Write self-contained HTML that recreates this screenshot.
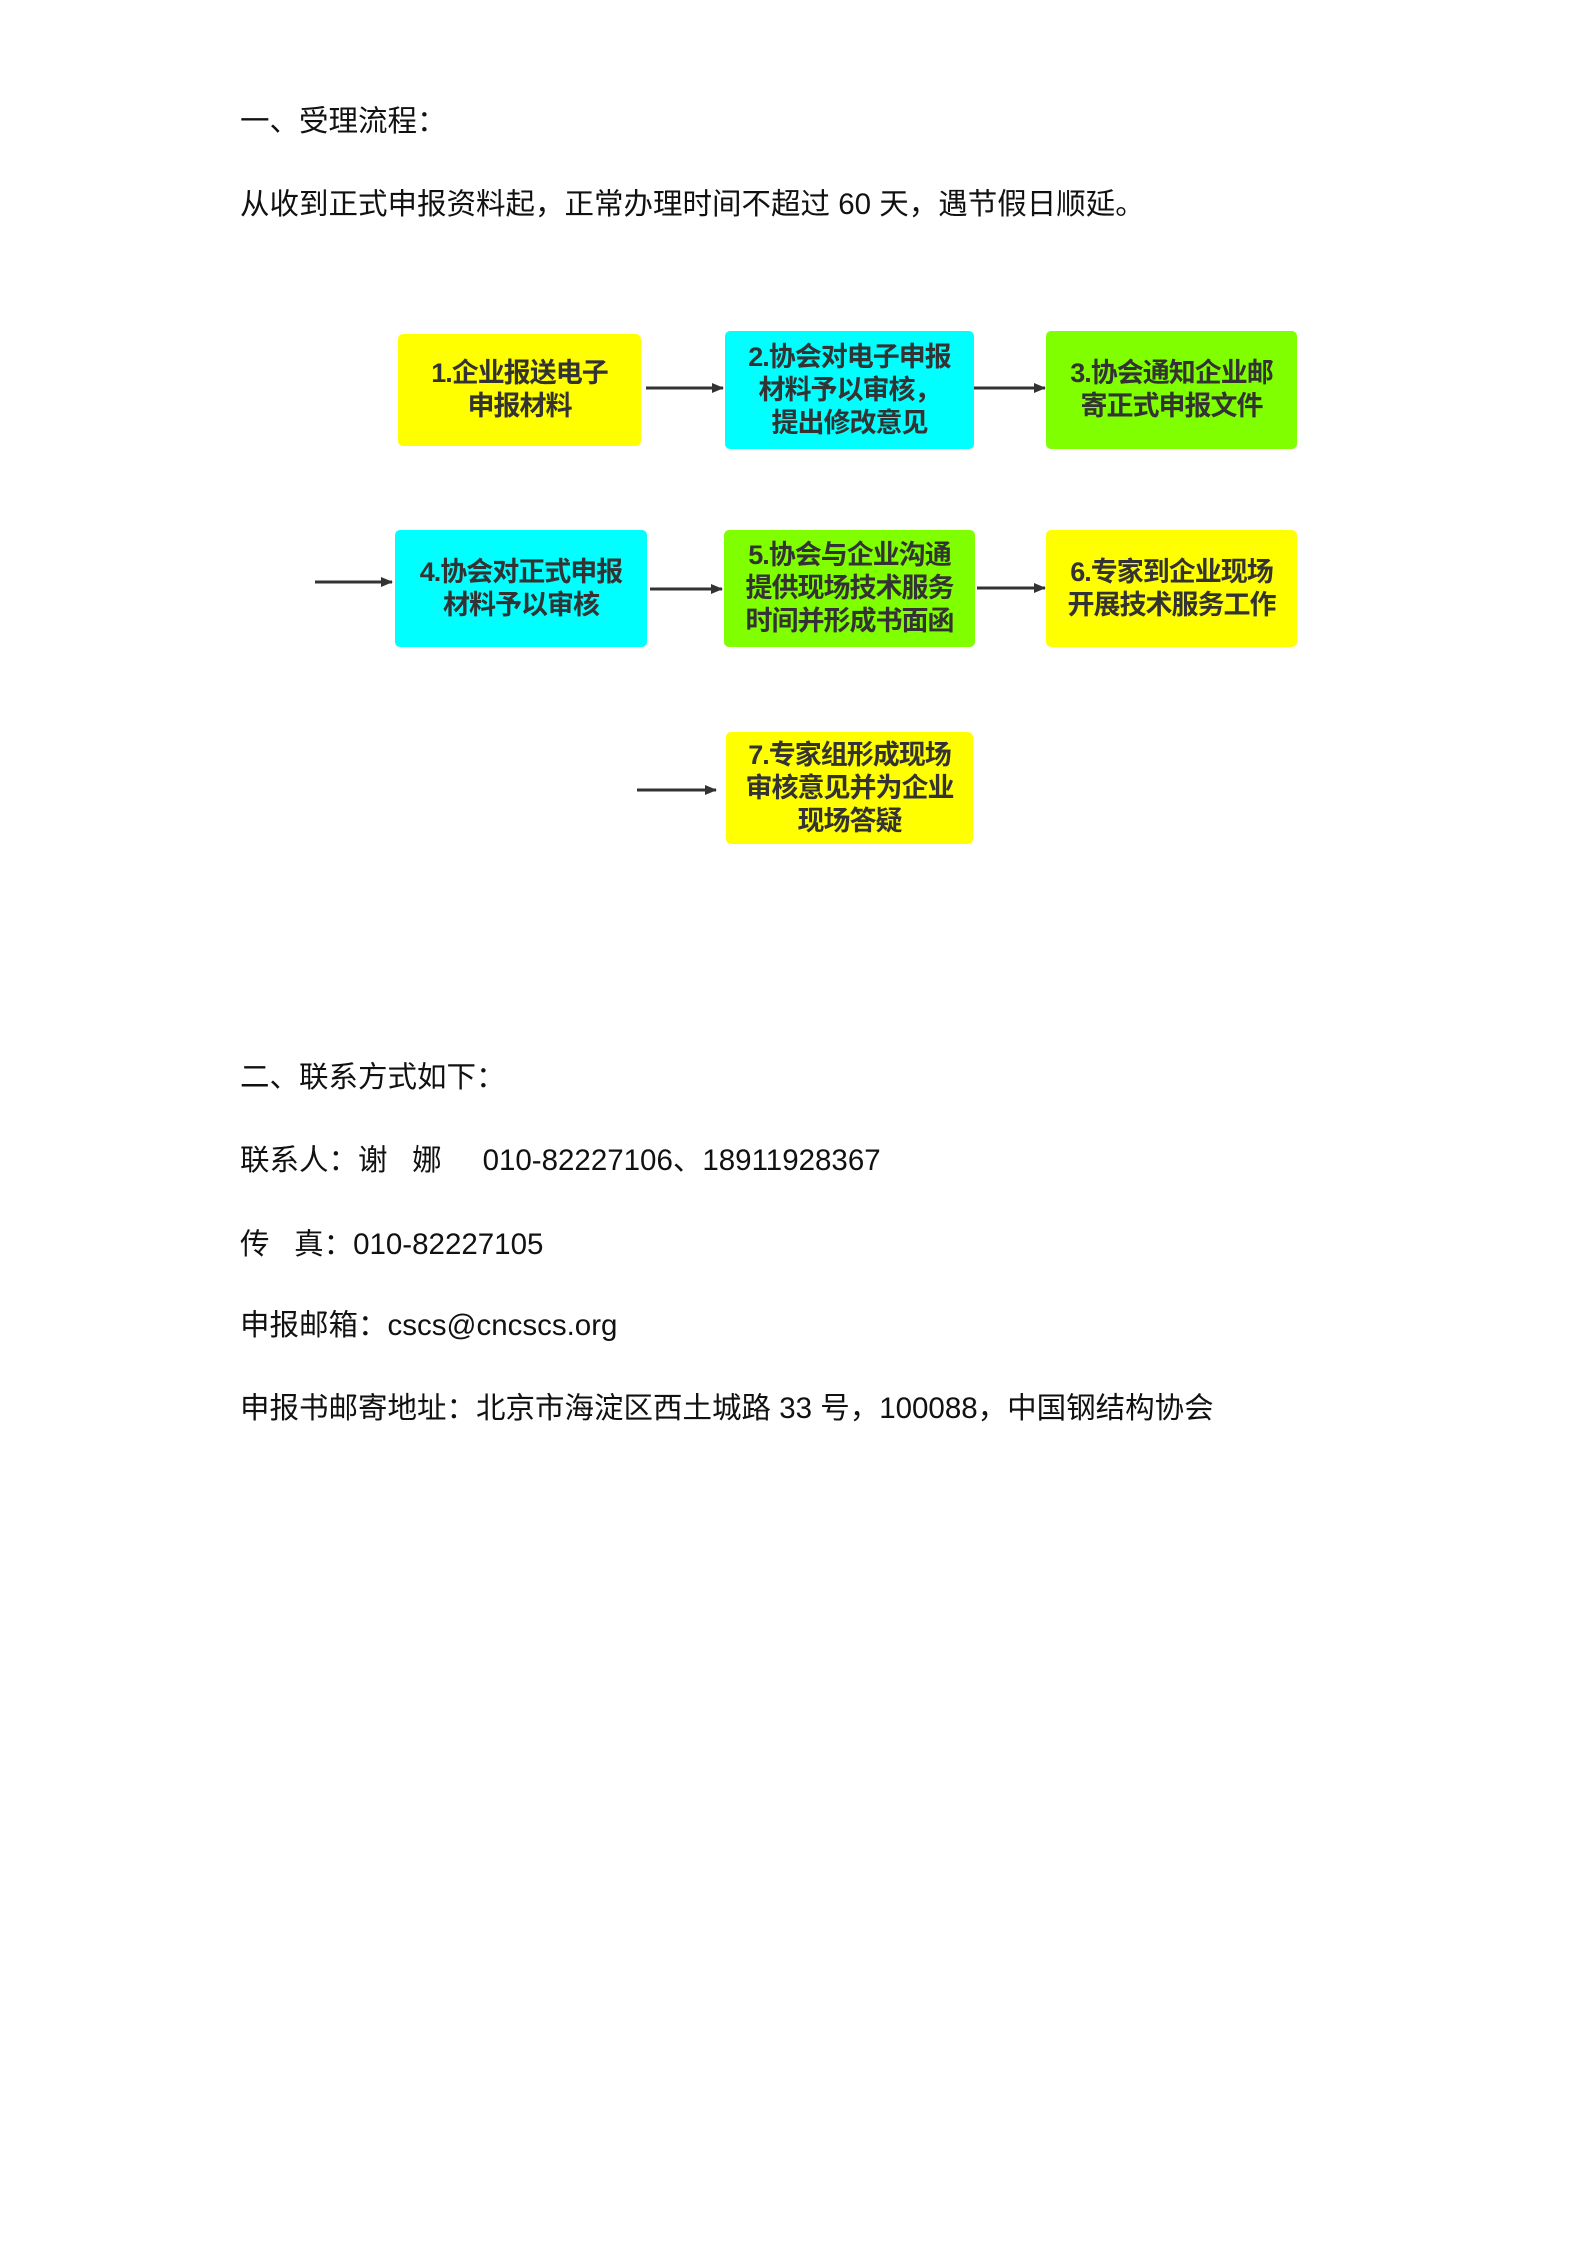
<!DOCTYPE html>
<html><head><meta charset="utf-8"><style>
body{margin:0;width:1587px;height:2245px;background:#fff;position:relative;font-family:"Liberation Sans","Noto Sans CJK SC",sans-serif;color:#111;}
.t{position:absolute;left:240px;font-size:29.5px;white-space:nowrap;line-height:1;}
.b{position:absolute;display:flex;align-items:center;justify-content:center;text-align:center;font-weight:bold;font-size:27px;line-height:33px;color:#333;border-radius:5px;letter-spacing:-1px;}
.y{background:#ffff00}.c{background:#00ffff}.g{background:#80ff00}
</style></head><body>
<div class="t" style="top:107px">一、受理流程：</div>
<div class="t" style="top:190px">从收到正式申报资料起，正常办理时间不超过 60 天，遇节假日顺延。</div>

<div class="b y" style="left:398px;top:334px;width:243px;height:112px">1.企业报送电子<br>申报材料</div>
<div class="b c" style="left:725px;top:331px;width:249px;height:118px">2.协会对电子申报<br>材料予以审核，<br>提出修改意见</div>
<div class="b g" style="left:1046px;top:331px;width:251px;height:118px">3.协会通知企业邮<br>寄正式申报文件</div>
<div class="b c" style="left:395px;top:530px;width:252px;height:117px">4.协会对正式申报<br>材料予以审核</div>
<div class="b g" style="left:724px;top:530px;width:251px;height:117px">5.协会与企业沟通<br>提供现场技术服务<br>时间并形成书面函</div>
<div class="b y" style="left:1046px;top:530px;width:251px;height:117px">6.专家到企业现场<br>开展技术服务工作</div>
<div class="b y" style="left:726px;top:732px;width:247px;height:112px">7.专家组形成现场<br>审核意见并为企业<br>现场答疑</div>

<svg width="1587" height="2245" style="position:absolute;left:0;top:0" >
<defs><marker id="a" markerWidth="12" markerHeight="10" refX="11" refY="5" orient="auto" markerUnits="userSpaceOnUse"><path d="M0,0L12,5L0,10z" fill="#333"/></marker></defs>
<g stroke="#333" stroke-width="3" marker-end="url(#a)">
<line x1="646" y1="388" x2="723" y2="388"/>
<line x1="974" y1="388" x2="1045" y2="388"/>
<line x1="315" y1="582" x2="392" y2="582"/>
<line x1="650" y1="589" x2="722" y2="589"/>
<line x1="977" y1="588" x2="1045" y2="588"/>
<line x1="637" y1="790" x2="716" y2="790"/>
</g></svg>

<div class="t" style="top:1063px">二、联系方式如下：</div>
<div class="t" style="top:1146px">联系人：谢&nbsp;&nbsp;&nbsp;娜&nbsp;&nbsp;&nbsp;&nbsp;&nbsp;010-82227106、18911928367</div>
<div class="t" style="top:1230px">传&nbsp;&nbsp;&nbsp;真：010-82227105</div>
<div class="t" style="top:1311px">申报邮箱：cscs@cncscs.org</div>
<div class="t" style="top:1394px">申报书邮寄地址：北京市海淀区西土城路 33 号，100088，中国钢结构协会</div>
</body></html>
